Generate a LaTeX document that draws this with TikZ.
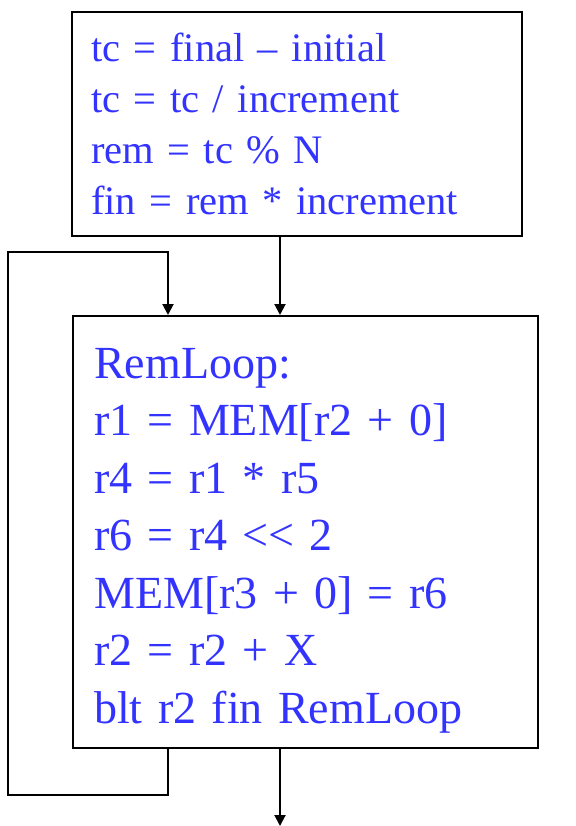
\documentclass[tikz,border=0pt]{standalone}
\usepackage{fontspec}
\newfontfamily\codefont{Liberation Serif}
\usetikzlibrary{arrows.meta, positioning}
\definecolor{codeblue}{RGB}{51,51,255}

\begin{document}
\begin{tikzpicture}[
    x=1pt, y=-1pt,
    block style/.style={
        draw,
        line width=2.4pt,
        anchor=north west,
        inner sep=0pt,
        align=left,
        text=codeblue
    },
    arrow style/.style={
        line width=2pt,
        -{Triangle[length=11pt,width=11pt]}
    },
    loop style/.style={
        line width=2.4pt,
        line join=miter
    }
]

% Page frame
\useasboundingbox (0,0) rectangle (575,826);

% Setup block
\node[block style, minimum width=450pt, minimum height=224pt, text width=412pt,
      font=\codefont\fontsize{40.5}{51}\selectfont] (setup) at (71,11)
    {tc = final – initial\\
     tc = tc / increment\\
     rem = tc \% N\\
     fin = rem * increment};

% Loop body
\node[block style, minimum width=465pt, minimum height=432pt, text width=423pt,
      font=\codefont\fontsize{46}{57.5}\selectfont] (body) at (72,315)
    {\rule{0pt}{47pt}RemLoop:\\
     r1 = MEM[r2 + 0]\\
     r4 = r1 * r5\\
     r6 = r4 << 2\\
     MEM[r3 + 0] = r6\\
     r2 = r2 + X\\
     blt r2 fin RemLoop};

% Helper points
\coordinate (mid) at (280,0);
\coordinate (back) at (168,0);
\coordinate (loopbot) at (8,795);
\coordinate (looptop) at (8,252);
\coordinate (exit) at (280,826);

% Fall-through arrows
\draw[arrow style] (setup.south -| mid) -- (body.north -| mid);
\draw[arrow style] (body.south -| mid) -- (exit);

% Back edge
\draw[loop style] (body.south -| back) |- (loopbot) -- (looptop) -| ([yshift=14pt]body.north -| back);
\draw[arrow style] ([yshift=15pt]body.north -| back) -- (body.north -| back);

\end{tikzpicture}
\end{document}
